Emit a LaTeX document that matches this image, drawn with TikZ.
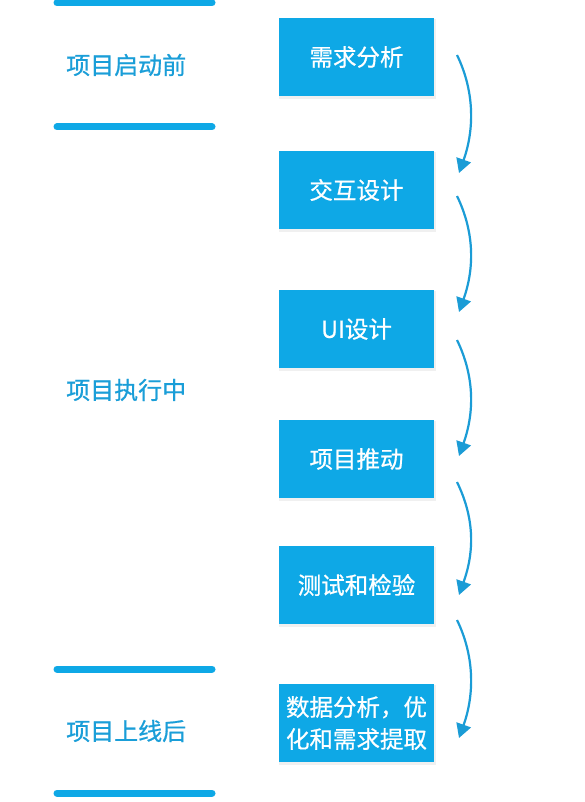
\documentclass[tikz,border=0pt]{standalone}
\usepackage{fontspec}
\setmainfont{Noto Sans CJK SC}
\newfontfamily\medcjk[FakeBold=0.7]{Noto Sans CJK SC}
\usetikzlibrary{arrows.meta,calc}
\definecolor{boxblue}{HTML}{0EA8E6}
\definecolor{txtblue}{HTML}{1A9ED8}
\definecolor{arrblue}{HTML}{1B9CD6}
\tikzset{
  x=1pt, y=-1pt,
  stage/.style={fill=boxblue, minimum width=155pt, minimum height=78pt, inner sep=0pt,
    text=white, font=\medcjk\fontsize{23.5}{33}\selectfont, align=center},
  phase/.style={text=txtblue, font=\medcjk\fontsize{24}{26}\selectfont, anchor=west, inner sep=0pt},
  bar/.style={draw=boxblue, line width=7pt, line cap=round},
  flow/.style={draw=arrblue, line width=2.2pt, -{Triangle[length=14pt,width=15pt]}},
  shadowbox/.style={fill=black!6, minimum width=157pt, minimum height=80pt, inner sep=0pt}
}
\begin{document}
\begin{tikzpicture}
\useasboundingbox (0,0) rectangle (585,802);
\fill[white] (0,0) rectangle (585,802);
% bars
\coordinate (b1a) at (57,3); \coordinate (b1b) at (212,3);
\coordinate (b2a) at (57,127); \coordinate (b2b) at (212,127);
\coordinate (b3a) at (57,669); \coordinate (b3b) at (212,669);
\coordinate (b4a) at (57,793); \coordinate (b4b) at (212,793);
\draw[bar] (b1a) -- (b1b);
\draw[bar] (b2a) -- (b2b);
\draw[bar] (b3a) -- (b3b);
\draw[bar] (b4a) -- (b4b);
% phase labels
\node[phase] (p1) at (66,65) {项目启动前};
\node[phase] (p2) at (66,390) {项目执行中};
\node[phase] (p3) at (66,731) {项目上线后};
% shadows
\foreach \yy in {57,190,329,459,585,723}
  \node[shadowbox] at (357.5,\yy+2) {};
% boxes
\node[stage] (s1) at (356.5,57) {需求分析};
\node[stage] (s2) at (356.5,190) {交互设计};
\node[stage] (s3) at (356.5,329) {UI设计};
\node[stage] (s4) at (356.5,459) {项目推动};
\node[stage] (s5) at (356.5,585) {测试和检验};
\node[stage] (s6) at (356.5,723) {数据分析，优\\[-1pt]化和需求提取};
% arrows
\coordinate (as1) at (457,55);  \coordinate (ae1) at (459,173);
\coordinate (as2) at (457,196); \coordinate (ae2) at (459,312);
\coordinate (as3) at (457,340); \coordinate (ae3) at (459,456);
\coordinate (as4) at (457,482); \coordinate (ae4) at (459,595);
\coordinate (as5) at (457,620); \coordinate (ae5) at (459,738);
\foreach \i in {1,...,5}
  \draw[flow] (as\i) .. controls ($(as\i)+(17,35)$) and ($(ae\i)+(16,-45)$) .. (ae\i);
\end{tikzpicture}
\end{document}
